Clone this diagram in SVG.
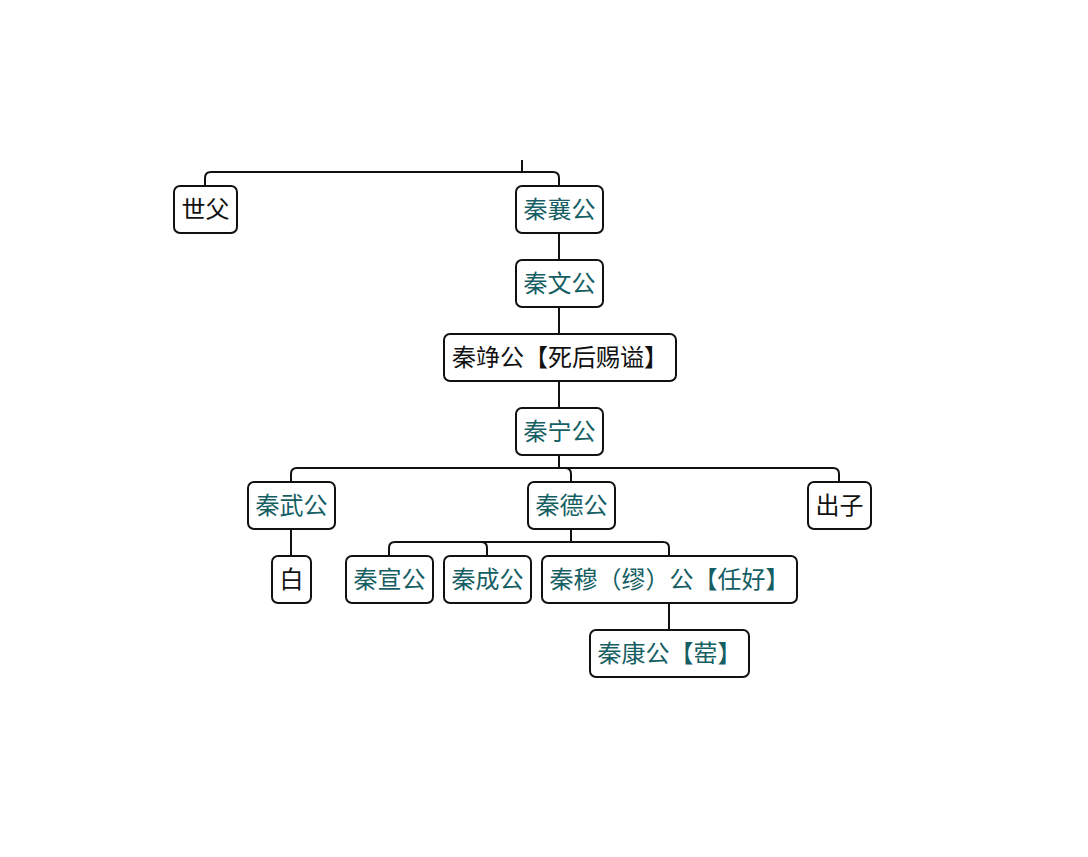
<svg xmlns="http://www.w3.org/2000/svg" width="1088" height="857" viewBox="0 0 1088 857">
<style>
.n rect{fill:#fff;stroke:#111;stroke-width:2}
.n text{font-family:"Noto Sans CJK SC","Noto Sans CJK JP",sans-serif;font-size:24px;text-anchor:middle}
.t text{fill:#155e63}
.k text{fill:#111}
#connectors path{fill:none;stroke:#111;stroke-width:2}
</style>
<rect width="1088" height="857" fill="#fff"/>
<g id="connectors">
<path d="M522 160V172"/>
<path d="M205 186V178Q205 172 211 172H553Q559 172 559 178V186"/>
<path d="M559 233V260"/>
<path d="M559 307V334"/>
<path d="M559 381V408"/>
<path d="M559 455V468"/>
<path d="M291 482V474Q291 468 297 468H833Q839 468 839 474V482"/>
<path d="M565 468Q571 468 571 474V482"/>
<path d="M291 529V556"/>
<path d="M571 529V542"/>
<path d="M389 556V548Q389 542 395 542H663Q669 542 669 548V556"/>
<path d="M481 542Q487 542 487 548V556"/>
<path d="M669 603V630"/>
</g>
<g id="n-shifu" class="n k"><rect x="174" y="186" width="63" height="47" rx="6"/><text x="205.5" y="218">世父</text></g>
<g id="n-xianggong" class="n t"><rect x="516" y="186" width="87" height="47" rx="6"/><text x="559.5" y="218">秦襄公</text></g>
<g id="n-wengong" class="n t"><rect x="516" y="260" width="87" height="47" rx="6"/><text x="559.5" y="292">秦文公</text></g>
<g id="n-jinggong" class="n k"><rect x="444" y="334" width="232" height="47" rx="6"/><text x="560" y="366">秦竫公【死后赐谥】</text></g>
<g id="n-ninggong" class="n t"><rect x="516" y="408" width="87" height="47" rx="6"/><text x="559.5" y="440">秦宁公</text></g>
<g id="n-wugong" class="n t"><rect x="248" y="482" width="87" height="47" rx="6"/><text x="291.5" y="514">秦武公</text></g>
<g id="n-degong" class="n t"><rect x="528" y="482" width="87" height="47" rx="6"/><text x="571.5" y="514">秦德公</text></g>
<g id="n-chuzi" class="n k"><rect x="808" y="482" width="63" height="47" rx="6"/><text x="839.5" y="514">出子</text></g>
<g id="n-bai" class="n k"><rect x="272" y="556" width="39" height="47" rx="6"/><text x="291.5" y="588">白</text></g>
<g id="n-xuangong" class="n t"><rect x="346" y="556" width="87" height="47" rx="6"/><text x="389.5" y="588">秦宣公</text></g>
<g id="n-chenggong" class="n t"><rect x="444" y="556" width="87" height="47" rx="6"/><text x="487.5" y="588">秦成公</text></g>
<g id="n-mugong" class="n t"><rect x="542" y="556" width="255" height="47" rx="6"/><text x="669.5" y="588">秦穆（缪）公【任好】</text></g>
<g id="n-kanggong" class="n t"><rect x="590" y="630" width="159" height="47" rx="6"/><text x="669.5" y="662">秦康公【䓨】</text></g>
</svg>
